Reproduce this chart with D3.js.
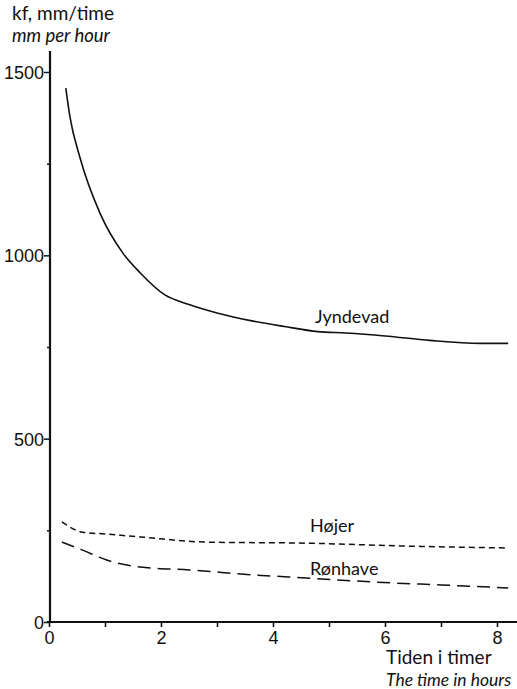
<!DOCTYPE html>
<html>
<head>
<meta charset="utf-8">
<script src="https://cdn.jsdelivr.net/npm/d3@7"></script>
<style>
  html, body { margin: 0; padding: 0; background: #fff; }
  svg { display: block; font-family: Lato, "Open Sans", sans-serif; }
</style>
</head>
<body>
<svg id="chart" width="517" height="689"></svg>
<script>
// Infiltration rate (kf, mm per hour) against time in hours for three sites
const jyndevadHours = [0.3, 0.375, 0.55, 0.91, 1.32, 1.63, 2.07, 2.5, 3.0, 3.6, 4.2, 4.8, 5.3, 6.0, 6.8, 7.7, 8.2];
const jyndevadRate  = [1456, 1377, 1268, 1115, 1006, 952, 892, 866, 843, 822, 806, 792, 788, 780, 768, 760, 760];

const hojerHours = [0.23, 0.6, 1.0, 1.63, 2.8, 4.6, 6.4, 8.2];
const hojerRate  = [273, 245, 240, 232, 218, 215, 207, 202];

const ronhaveHours = [0.23, 0.6, 1.03, 1.63, 2.5, 3.7, 4.6, 5.8, 7.0, 8.2];
const ronhaveRate  = [218, 196, 169, 150, 142, 128, 120, 109, 101, 93];

const xTickLabels = [0, 2, 4, 6, 8];
const xTicks = [0, 1, 2, 3, 4, 5, 6, 7, 8];
const yTickLabels = [0, 500, 1000, 1500];
const yTicks = [0, 250, 500, 750, 1000, 1250, 1500];

const svg = d3.select("#chart");

const x = d3.scaleLinear().domain([0, 8]).range([49, 497]);
const y = d3.scaleLinear().domain([0, 1500]).range([622, 72]);

const ink = "#111";

// Axes
const xAxis = d3.axisBottom(x)
  .tickValues(xTicks)
  .tickSize(5)
  .tickFormat(d => xTickLabels.includes(d) ? d : "");
const gx = svg.append("g").attr("transform", `translate(0,${y(0)})`).call(xAxis);
gx.select(".domain").remove();
gx.append("line")
  .attr("x1", x(0) - 2).attr("x2", 517)
  .attr("stroke", ink).attr("stroke-width", 2.2);
gx.selectAll(".tick line").attr("stroke", ink).attr("stroke-width", 1.6);
gx.selectAll(".tick text")
  .attr("fill", ink).attr("font-size", 18).attr("dy", "0.95em").attr("y", 5);

const yAxis = d3.axisLeft(y)
  .tickValues(yTicks)
  .tickSize(5)
  .tickFormat(d => yTickLabels.includes(d) ? d : "");
const gy = svg.append("g").attr("transform", `translate(${x(0) + 1},0)`).call(yAxis);
gy.select(".domain").remove();
gy.append("line")
  .attr("y1", y(0) + 1).attr("y2", 51)
  .attr("stroke", ink).attr("stroke-width", 2.2);
gy.selectAll(".tick line")
  .attr("stroke", ink).attr("stroke-width", 1.5)
  .attr("x2", d => yTickLabels.includes(d) ? -6 : -3);
gy.selectAll(".tick text")
  .attr("fill", ink).attr("font-size", 18).attr("x", -6).attr("dy", "0.36em");

// Curves
const line = d3.line()
  .x(d => x(d[0]))
  .y(d => y(d[1]))
  .curve(d3.curveMonotoneX);

const series = [
  { hours: jyndevadHours, rate: jyndevadRate, dash: null, width: 1.6 },
  { hours: hojerHours, rate: hojerRate, dash: "6,4", width: 1.5 },
  { hours: ronhaveHours, rate: ronhaveRate, dash: "13,7", width: 1.5 }
];

series.forEach(s => {
  svg.append("path")
    .datum(d3.zip(s.hours, s.rate))
    .attr("d", line)
    .attr("fill", "none")
    .attr("stroke", ink)
    .attr("stroke-width", s.width)
    .attr("stroke-dasharray", s.dash);
});

// Series names
const labels = [
  { text: "Jyndevad", x: 315, y: 323 },
  { text: "Højer", x: 310, y: 532 },
  { text: "Rønhave", x: 310, y: 575 }
];
svg.selectAll(".series-label")
  .data(labels)
  .join("text")
  .attr("class", "series-label")
  .attr("x", d => d.x).attr("y", d => d.y)
  .attr("font-size", 18)
  .attr("fill", ink)
  .text(d => d.text);

// Axis titles
svg.append("text").attr("x", 12).attr("y", 20).attr("font-size", 19).attr("fill", ink)
  .text("kf, mm/time");
svg.append("text").attr("x", 12).attr("y", 42).attr("font-size", 18.5).attr("font-style", "italic").attr("fill", ink)
  .text("mm per hour");
svg.append("text").attr("x", 386).attr("y", 664).attr("font-size", 19).attr("fill", ink)
  .text("Tiden i timer");
svg.append("text").attr("x", 386).attr("y", 686).attr("font-size", 17.5).attr("font-style", "italic").attr("fill", ink)
  .text("The time in hours");
</script>
</body>
</html>
